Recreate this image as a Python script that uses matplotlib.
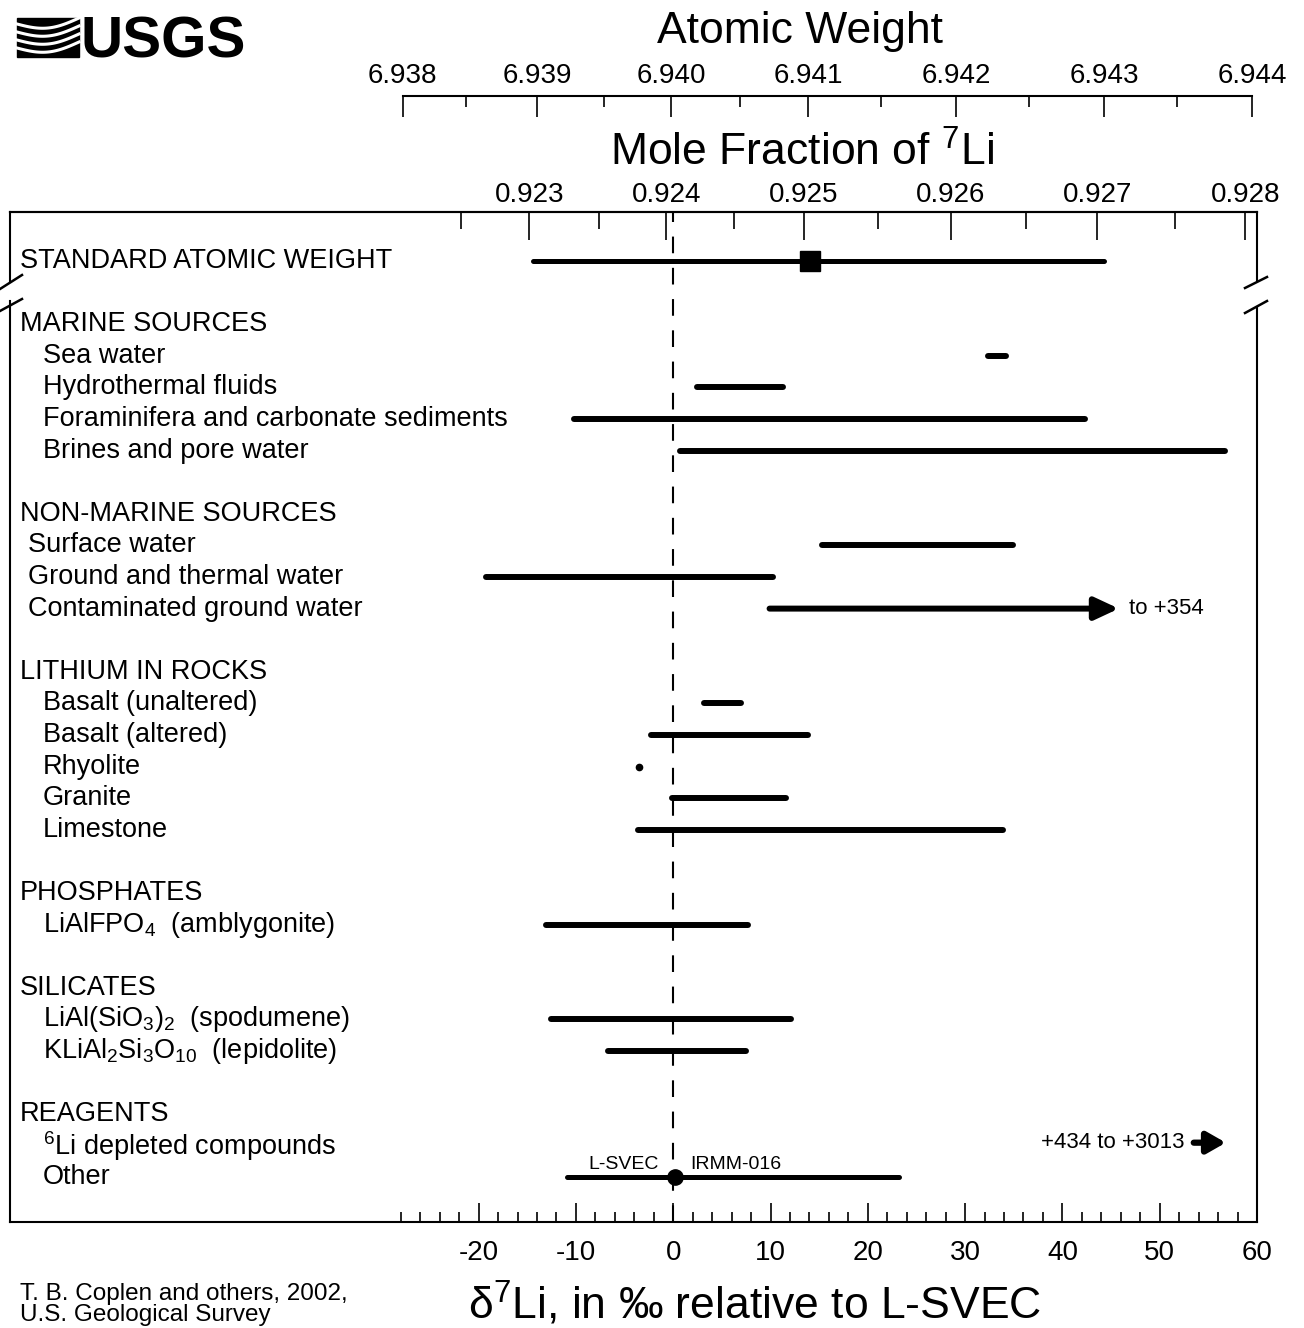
import numpy as np
import matplotlib
matplotlib.use("Agg")
import matplotlib.pyplot as plt
from matplotlib.patches import Rectangle

plt.rcParams['font.family'] = ['Liberation Sans', 'DejaVu Sans']
plt.rcParams['mathtext.fontset'] = 'custom'
plt.rcParams['mathtext.rm'] = 'Liberation Sans'
plt.rcParams['mathtext.it'] = 'Liberation Sans:italic'
plt.rcParams['mathtext.bf'] = 'Liberation Sans:bold'
plt.rcParams['axes.unicode_minus'] = False

# ---- data (delta 7Li, per mil relative to L-SVEC) ----
std_label = "STANDARD ATOMIC WEIGHT"
std_range = [-14.4, 44.3]
std_value = 14.1

groups = ["MARINE SOURCES", "NON-MARINE SOURCES", "LITHIUM IN ROCKS",
          "PHOSPHATES", "SILICATES", "REAGENTS"]
group_size = [4, 3, 5, 1, 2, 2]
items = ["Sea water", "Hydrothermal fluids",
         "Foraminifera and carbonate sediments", "Brines and pore water",
         "Surface water", "Ground and thermal water", "Contaminated ground water",
         "Basalt (unaltered)", "Basalt (altered)", "Rhyolite", "Granite", "Limestone",
         r"LiAlFPO$_4$  (amblygonite)",
         r"LiAl(SiO$_3$)$_2$  (spodumene)", r"KLiAl$_2$Si$_3$O$_{10}$  (lepidolite)",
         r"$^6$Li depleted compounds", "Other"]
delta_lo = [32.4, 2.4, -10.2, 0.7,
            15.3, -19.2, 9.9,
            3.2, -2.3, -3.5, -0.1, -3.6,
            -13.1,
            -12.6, -6.7,
            None, -10.9]
delta_hi = [34.2, 11.3, 42.3, 56.7,
            34.9, 10.3, 45.8,
            7.0, 13.9, -3.5, 11.6, 33.9,
            7.7,
            12.1, 7.5,
            None, 23.2]
arrow_items = {"Contaminated ground water": "to +354"}
offscale_text = "+434 to +3013"
offscale_arrow = [53.5, 56.8]
ref_dot = 0.2
ref_names = ["L-SVEC", "IRMM-016"]

mf_labels = ["0.923", "0.924", "0.925", "0.926", "0.927", "0.928"]
mf_major = [-14.8, -0.7, 13.4, 28.5, 43.6, 58.8]
mf_minor = [-21.8, -7.6, 6.2, 21.0, 36.3, 51.6]
aw_labels = ["6.938", "6.939", "6.940", "6.941", "6.942", "6.943", "6.944"]
aw_major = [-27.8, -14.0, -0.2, 13.9, 29.1, 44.3, 59.5]
aw_minor = [-21.3, -7.1, 6.9, 21.4, 36.6, 51.8]

# ---- layout ----
W, H = 1304, 1328
fig = plt.figure(figsize=(W / 100, H / 100), dpi=100)

canvas = fig.add_axes([0, 0, 1, 1])
canvas.set_xlim(0, W)
canvas.set_ylim(H, 0)
canvas.axis('off')

L, R, T, B = 10, 1257, 212, 1222
ax = fig.add_axes([L / W, (H - B) / H, (R - L) / W, (B - T) / H])
ax.patch.set_alpha(0)
ax.set_xlim(-68.17, 60.0)
ax.set_ylim(30.41, -1.55)
for s in ['left', 'right']:
    ax.spines[s].set_visible(False)
for s in ['top', 'bottom']:
    ax.spines[s].set_linewidth(1.5)
ax.set_yticks([])

# bottom delta axis
ax.set_xticks(np.arange(-20, 61, 10))
ax.set_xticks([v for v in range(-28, 60, 2) if v % 10], minor=True)
ax.tick_params(axis='x', which='major', direction='in', length=14, width=1.2,
               labelsize=20, pad=13)
ax.tick_params(axis='x', which='minor', direction='in', length=7, width=1.2)

# mole fraction axis on the box top
sec = ax.secondary_xaxis('top')
sec.set_xticks(mf_major, labels=mf_labels)
sec.set_xticks(mf_minor, minor=True)
sec.spines['top'].set_linewidth(1.5)
sec.tick_params(which='major', direction='in', length=20, width=1.2, labelsize=20, pad=3)
sec.tick_params(which='minor', direction='in', length=12, width=1.2)

# atomic weight axis
aw_y = 96
axw = fig.add_axes([L / W, (H - aw_y - 1) / H, (R - L) / W, 1 / H])
axw.patch.set_alpha(0)
axw.set_xlim(ax.get_xlim())
for s in ['left', 'right', 'bottom']:
    axw.spines[s].set_visible(False)
axw.spines['top'].set_bounds(aw_major[0], aw_major[-1])
axw.spines['top'].set_linewidth(1.5)
axw.set_yticks([])
axw.xaxis.tick_top()
axw.set_xticks(aw_major, labels=aw_labels)
axw.set_xticks(aw_minor, minor=True)
axw.tick_params(which='major', direction='in', length=15, width=1.2, labelsize=20, pad=5)
axw.tick_params(which='minor', direction='in', length=8, width=1.2)

# reference line at zero
ax.axvline(0, color='black', lw=1.5, ls=(0, (8, 7)), zorder=1)

# rows
def px_frac(p):
    return (p - L) / (R - L)

row_fs = 19.5
bar_lw = 4.3
ylab = ax.get_yaxis_transform()

ax.text(px_frac(20), 0, std_label, transform=ylab, fontsize=row_fs, va='center')
ax.plot(std_range, [0, 0], color='black', lw=3.6, solid_capstyle='round', zorder=3)
ax.plot([std_value], [0], marker='s', ms=14, color='black', zorder=4)

group_indent = [43, 28, 43, 43, 43, 43]
row = 0
k = 0
for g, n, ind in zip(groups, group_size, group_indent):
    row += 2
    ax.text(px_frac(20), row, g, transform=ylab, fontsize=row_fs, va='center')
    for j in range(n):
        row += 1
        name = items[k]
        lo, hi = delta_lo[k], delta_hi[k]
        ax.text(px_frac(ind), row, name, transform=ylab, fontsize=row_fs, va='center')
        if lo is None:
            ax.text(offscale_arrow[0] - 1.0, row - 0.1, offscale_text, fontsize=16,
                    ha='right', va='center')
            ax.annotate('', xy=(offscale_arrow[1], row - 0.1), xytext=(offscale_arrow[0], row - 0.1),
                        arrowprops=dict(arrowstyle='-|>,head_length=0.7,head_width=0.4',
                                        lw=4.5, color='black', shrinkA=0, shrinkB=0,
                                        mutation_scale=16))
        elif lo == hi:
            ax.plot([lo], [row], marker='o', ms=4.5, color='black', zorder=3)
        elif name in arrow_items:
            ax.annotate('', xy=(hi, row), xytext=(lo, row),
                        arrowprops=dict(arrowstyle='-|>,head_length=0.9,head_width=0.42',
                                        lw=4.3, color='black', shrinkA=0, shrinkB=0,
                                        mutation_scale=16), zorder=3)
            ax.text(hi + 1.0, row, arrow_items[name], fontsize=16, va='center')
        else:
            lw = 3.6 if name == "Other" else bar_lw
            ax.plot([lo, hi], [row, row], color='black', lw=lw,
                    solid_capstyle='round', zorder=3)
        if name == "Other":
            ax.plot([ref_dot], [row], marker='o', ms=11, color='black', zorder=4)
            ax.text(-1.5, row - 0.42, ref_names[0], fontsize=14, ha='right', va='center')
            ax.text(1.7, row - 0.42, ref_names[1], fontsize=14, ha='left', va='center')
        k += 1

# box sides with axis breaks
def side(x, gap_top, gap_bot, s0, s1):
    canvas.plot([x, x], [T, gap_top], color='black', lw=1.5)
    canvas.plot([x, x], [gap_bot, B], color='black', lw=1.5)
    canvas.plot([s0[0], s0[2]], [s0[1], s0[3]], color='black', lw=1.8)
    canvas.plot([s1[0], s1[2]], [s1[1], s1[3]], color='black', lw=1.8)

side(L, 282, 301, (0, 289, 22, 275), (0, 311, 22, 299))
side(R, 280, 307, (1245, 288, 1267, 277), (1245, 313, 1267, 301))

# titles
canvas.text(800, 31, "Atomic Weight", fontsize=32, ha='center', va='center')
canvas.text(802, 153, r"Mole Fraction of $^7$Li", fontsize=32, ha='center', va='center')
canvas.text(755, 1304, r"δ$^7$Li, in ‰ relative to L-SVEC", fontsize=32,
            ha='center', va='center')
canvas.text(20, 1294, "T. B. Coplen and others, 2002,", fontsize=17.5, va='center')
canvas.text(20, 1315, "U.S. Geological Survey", fontsize=17.5, va='center')

# USGS logo
canvas.add_patch(Rectangle((17, 18), 62, 39, color='black'))
xs = np.linspace(17, 79, 60)
t = (xs - 17) / 62
for base in [24, 32, 40, 48]:
    ys = base + 7 * np.sin(np.pi * t) - 6 * t
    canvas.plot(xs, ys, color='white', lw=2.2)
canvas.text(81, 58, "USGS", fontsize=42, fontweight='heavy', va='baseline')

fig.savefig("out.png", dpi=100)
